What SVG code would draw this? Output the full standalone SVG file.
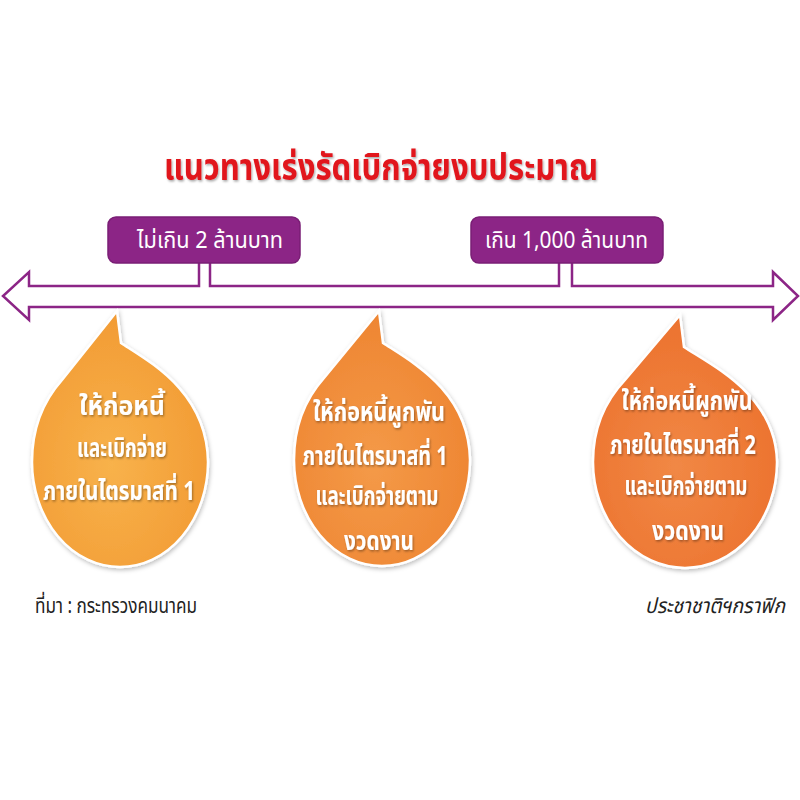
<svg xmlns="http://www.w3.org/2000/svg" width="800" height="800" viewBox="0 0 800 800">
<defs>
<style>
.th{font-family:"Noto Sans Thai","Noto Sans Thai UI","Noto Sans","DejaVu Sans",sans-serif;}
.title{font-size:38px;font-weight:bold;fill:#E1141C;}
.lbl{font-size:23px;fill:#ffffff;}
.lblbox{fill:#8C2586;stroke:#7A1E75;stroke-width:1.5;}
.bt{font-size:26px;font-weight:bold;fill:#ffffff;text-anchor:middle;}
.foot{font-size:21px;fill:#222222;}
.arrow{fill:none;stroke:#8C2586;stroke-width:2.5;stroke-linejoin:miter;}
.bub{stroke:#ffffff;stroke-width:2.5;}
</style>
<radialGradient id="g1" cx="0.45" cy="0.6" r="0.6"><stop offset="0" stop-color="#F8B24B"/><stop offset="1" stop-color="#F29B34"/></radialGradient>
<radialGradient id="g2" cx="0.45" cy="0.6" r="0.6"><stop offset="0" stop-color="#F49A48"/><stop offset="1" stop-color="#EE8532"/></radialGradient>
<radialGradient id="g3" cx="0.45" cy="0.6" r="0.6"><stop offset="0" stop-color="#F18845"/><stop offset="1" stop-color="#EC722E"/></radialGradient>
<filter id="sh" x="-20%" y="-20%" width="140%" height="140%"><feDropShadow dx="1" dy="2" stdDeviation="2" flood-color="#000" flood-opacity="0.25"/></filter>
<filter id="tsh" x="-20%" y="-30%" width="140%" height="160%"><feDropShadow dx="1" dy="1.5" stdDeviation="1" flood-color="#000" flood-opacity="0.35"/></filter>
</defs>
<rect width="800" height="800" fill="#ffffff"/>

<g id="title"><text class="th title" x="164" y="180" textLength="434" lengthAdjust="spacingAndGlyphs" filter="url(#tsh)">แนวทางเร่งรัดเบิกจ่ายงบประมาณ</text></g>

<g id="connectors">
<path class="arrow" d="M572,263 V286 H773 V272 L798,296 L773,320 V307 H29 V320 L3,296 L29,272 V286 H199 V263 M210,263 V286 H559 V263"/>
</g>

<g id="label1">
<rect class="lblbox" x="108" y="217" width="192" height="46" rx="8"/>
<text class="th lbl" x="137" y="248" textLength="146" lengthAdjust="spacingAndGlyphs">ไม่เกิน 2 ล้านบาท</text>
</g>
<g id="label2">
<rect class="lblbox" x="471" y="217" width="192" height="46" rx="8"/>
<text class="th lbl" x="485" y="248" textLength="163" lengthAdjust="spacingAndGlyphs">เกิน 1,000 ล้านบาท</text>
</g>

<g id="bubble1">
<path class="bub" fill="url(#g1)" filter="url(#sh)" d="M117,311 L121,343 C150,362 207,392 208,462 A88,105 0 0 1 32,462 C32,425 46,398 62,380 L117,311 Z"/>
<g class="th bt" filter="url(#tsh)">
<text x="122" y="415" textLength="86" lengthAdjust="spacingAndGlyphs">ให้ก่อหนี้</text>
<text x="122" y="457" textLength="90" lengthAdjust="spacingAndGlyphs">และเบิกจ่าย</text>
<text x="119" y="500" textLength="152" lengthAdjust="spacingAndGlyphs">ภายในไตรมาสที่ 1</text>
</g>
</g>
<g id="bubble2">
<path class="bub" fill="url(#g2)" filter="url(#sh)" d="M379,311 L383,343 C412,362 469,392 470,460 A88,106 0 0 1 294,460 C294,423 308,396 324,378 L379,311 Z"/>
<g class="th bt" filter="url(#tsh)">
<text x="379" y="421" textLength="132" lengthAdjust="spacingAndGlyphs">ให้ก่อหนี้ผูกพัน</text>
<text x="375" y="465" textLength="145" lengthAdjust="spacingAndGlyphs">ภายในไตรมาสที่ 1</text>
<text x="377" y="505" textLength="123" lengthAdjust="spacingAndGlyphs">และเบิกจ่ายตาม</text>
<text x="379" y="550" textLength="70" lengthAdjust="spacingAndGlyphs">งวดงาน</text>
</g>
</g>
<g id="bubble3">
<path class="bub" fill="url(#g3)" filter="url(#sh)" d="M680,315 L684,347 C713,366 776,396 777,462 A92,106 0 0 1 593,462 C593,425 608,398 625,380 L680,315 Z"/>
<g class="th bt" filter="url(#tsh)">
<text x="687" y="410" textLength="131" lengthAdjust="spacingAndGlyphs">ให้ก่อหนี้ผูกพัน</text>
<text x="683" y="454" textLength="146" lengthAdjust="spacingAndGlyphs">ภายในไตรมาสที่ 2</text>
<text x="686" y="495" textLength="123" lengthAdjust="spacingAndGlyphs">และเบิกจ่ายตาม</text>
<text x="688" y="540" textLength="72" lengthAdjust="spacingAndGlyphs">งวดงาน</text>
</g>
</g>

<g id="footer">
<text class="th foot" x="35" y="613" textLength="162" lengthAdjust="spacingAndGlyphs">ที่มา : กระทรวงคมนาคม</text>
<text class="th foot" x="785" y="613" text-anchor="end" textLength="140" lengthAdjust="spacingAndGlyphs" font-style="italic">ประชาชาติฯกราฟิก</text>
</g>
</svg>
